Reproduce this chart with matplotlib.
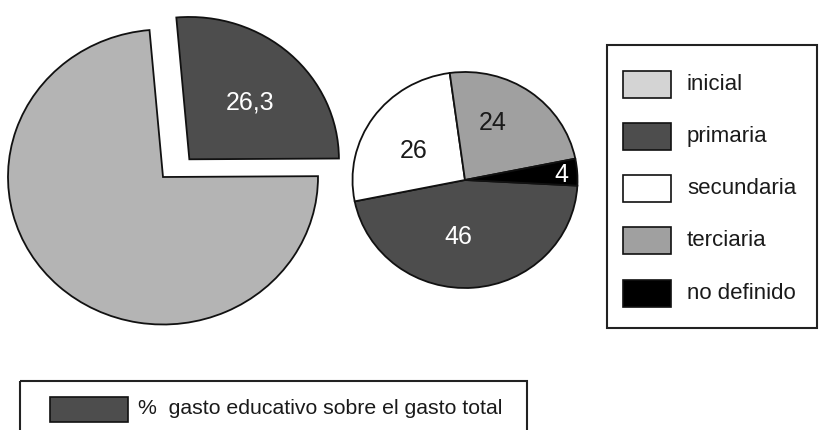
"""Gasto educativo: big pie (share of total spending) + small pie by level, with two legend boxes."""
import numpy as np
import matplotlib

matplotlib.use("Agg")
import matplotlib.pyplot as plt
from matplotlib.patches import Rectangle

plt.rcParams["font.family"] = ["Liberation Sans", "DejaVu Sans"]

W, H = 819, 430

# big pie: share of education in total spending
total_values = [26.3, 73.7]
total_labels = ["26,3", ""]
total_colors = ["#4d4d4d", "#b4b4b4"]

# small pie: distribution by level
levels = ["inicial", "primaria", "secundaria", "terciaria", "no definido"]
level_values = [0, 46, 26, 24, 4]
level_colors = ["#d4d4d4", "#4d4d4d", "#ffffff", "#a0a0a0", "#000000"]
level_text = ["", "46", "26", "24", "4"]
level_text_color = ["k", "white", "#1a1a1a", "#1a1a1a", "white"]

bottom_label = "%  gasto educativo sobre el gasto total"

EDGE = dict(edgecolor="#111111", linewidth=1.3)


def pie_axes(fig, cx, cy, rx, ry, lim=1.3):
    """Axes whose unit circle maps to an rx-by-ry ellipse centred at pixel (cx, cy)."""
    return fig.add_axes([(cx - rx * lim) / W, 1 - (cy + ry * lim) / H,
                         2 * rx * lim / W, 2 * ry * lim / H])


def finish(ax, lim=1.3):
    ax.set_xlim(-lim, lim)
    ax.set_ylim(-lim, lim)
    ax.set_aspect("auto")
    ax.axis("off")


def put_labels(ax, wedges, texts, colors, radii, shifts):
    for w, t, c, r, s in zip(wedges, texts, colors, radii, shifts):
        if not t:
            continue
        mid = np.deg2rad((w.theta1 + w.theta2) / 2 + s)
        x0, y0 = w.center
        ax.text(x0 + r * np.cos(mid), y0 + r * np.sin(mid), t, color=c,
                fontsize=18, ha="center", va="center")


def main() -> None:
    fig = plt.figure(figsize=(W / 100, H / 100), dpi=100)

    # overlay axes in pixel coordinates for the legend boxes
    ov = fig.add_axes([0, 0, 1, 1])
    ov.set_xlim(0, W)
    ov.set_ylim(H, 0)
    ov.axis("off")

    # (1) big pie, dark slice pulled out
    ax1 = pie_axes(fig, 163, 177, 155, 147.5)
    w1, _ = ax1.pie(total_values, colors=total_colors, startangle=95,
                    counterclock=False, wedgeprops=EDGE)
    w1[0].set_center((0.17, 0.12))
    w1[0].set_radius(0.965)
    finish(ax1)
    put_labels(ax1, w1, total_labels, ["white", "k"], [0.55, 0.5], [-3, 0])

    # (2) small pie by level (zero-valued categories only in legend)
    keep = [i for i, v in enumerate(level_values) if v > 0]
    ax2 = pie_axes(fig, 465, 180, 112.5, 108)
    w2, _ = ax2.pie([level_values[i] for i in keep],
                    colors=[level_colors[i] for i in keep],
                    startangle=-3, counterclock=False, wedgeprops=EDGE)
    finish(ax2)
    put_labels(ax2, w2, [level_text[i] for i in keep],
               [level_text_color[i] for i in keep],
               [0.53, 0.53, 0.58, 0.86], [-11, 5, 10, -1])

    # right legend box
    ov.add_patch(Rectangle((607, 45), 210, 283, fill=False, edgecolor="#222222", lw=1.5))
    for i, (name, col) in enumerate(zip(levels, level_colors)):
        yc = 84 + 52.3 * i
        ov.add_patch(Rectangle((623, yc - 13.5), 48, 27, facecolor=col,
                               edgecolor="#111111", lw=1.2))
        ov.text(687, yc, name, fontsize=16, va="center", ha="left", color="#1a1a1a")

    # bottom legend box (cut by the figure edge)
    ov.add_patch(Rectangle((20, 381), 507, 80, fill=False, edgecolor="#222222", lw=1.5))
    ov.add_patch(Rectangle((50, 397), 78, 25, facecolor=total_colors[0],
                           edgecolor="#111111", lw=1.2))
    ov.text(138, 409, bottom_label, fontsize=15.3, va="center", ha="left", color="#1a1a1a")

    fig.savefig("out.png", dpi=100, facecolor="white")


if __name__ == "__main__":
    main()
